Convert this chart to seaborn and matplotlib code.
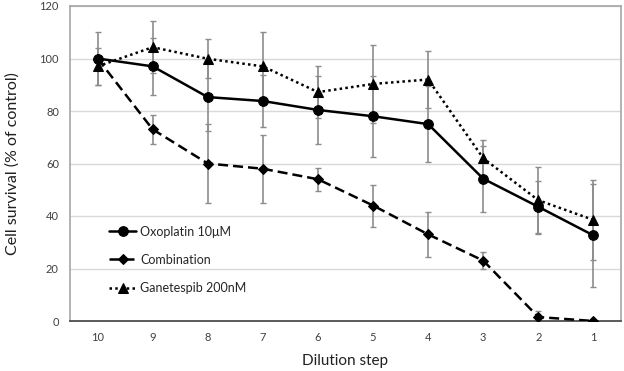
import numpy as np
import pandas as pd
import matplotlib
matplotlib.use("Agg")
import matplotlib.pyplot as plt
import seaborn as sns

steps = ["10", "9", "8", "7", "6", "5", "4", "3", "2", "1"]
oxo = [100, 97, 85.3, 83.8, 80.4, 78, 75, 54.2, 43.5, 32.6]
oxo_err = [10, 11, 13, 10, 13, 15.5, 14.5, 12.5, 10, 19.5]
combo = [100, 73, 60, 58, 54, 44, 33, 23, 1.5, 0]
combo_err = [0, 5.5, 15, 13, 4.3, 8, 8.5, 3.3, 2.2, 0]
gane = [97, 104.3, 99.9, 97, 87.2, 90.3, 92, 62, 46, 38.5]
gane_err = [7, 10, 7.5, 13, 10, 15, 11, 7, 12.7, 15.2]

labels = ["Oxoplatin 10μM", "Combination", "Ganetespib 200nM"]

sns.set_theme(style="white")
plt.rcParams['font.family'] = ['Lato', 'DejaVu Sans']

fig = plt.figure(figsize=(6.24, 3.71), dpi=100)
ax = fig.add_axes([70/624, 50/371, 551/624, 315/371])

series = [(oxo, oxo_err, labels[0], "o", "-", 7),
          (combo, combo_err, labels[1], "D", (0, (4, 2)), 5),
          (gane, gane_err, labels[2], "^", (0, (1, 1.3)), 7)]

xs = np.arange(len(steps))
for vals, errs, lab, mk, ls, ms in series:
    ax.errorbar(xs, vals, yerr=errs, fmt="none", ecolor="#8c8c8c",
                elinewidth=1.2, capsize=2.5, capthick=1.0, zorder=2)

for vals, errs, lab, mk, ls, ms in series:
    df = pd.DataFrame({"x": xs, "y": vals})
    sns.lineplot(data=df, x="x", y="y", ax=ax, color="black", marker=mk,
                 linestyle=ls, linewidth=1.8, markersize=ms,
                 markeredgecolor="black", label=lab, zorder=3)

ax.set_xlim(-0.5, len(steps) - 0.5)
ax.set_ylim(0, 120)
ax.set_xticks(xs)
ax.set_xticklabels(steps)
ax.set_yticks(np.arange(0, 121, 20))
ax.tick_params(axis="both", labelsize=8, colors="#404040", length=0, pad=8)
ax.yaxis.grid(True, color="#d9d9d9", linewidth=1)
ax.set_axisbelow(True)
for s in ["top", "right", "left"]:
    ax.spines[s].set_color("#a6a6a6")
    ax.spines[s].set_linewidth(1.2)
ax.spines["bottom"].set_color("#404040")
ax.spines["bottom"].set_linewidth(1.2)

ax.set_xlabel("Dilution step", fontsize=11, color="#202020", labelpad=8)
ax.set_ylabel("Cell survival (% of control)", fontsize=11.5, color="#202020", labelpad=14)

leg = ax.legend(loc="lower left", bbox_to_anchor=(0.05, 0.05), frameon=False,
                fontsize=9, handlelength=2.2, labelspacing=1.3, handletextpad=0.3)

fig.savefig("out.png", dpi=100)
